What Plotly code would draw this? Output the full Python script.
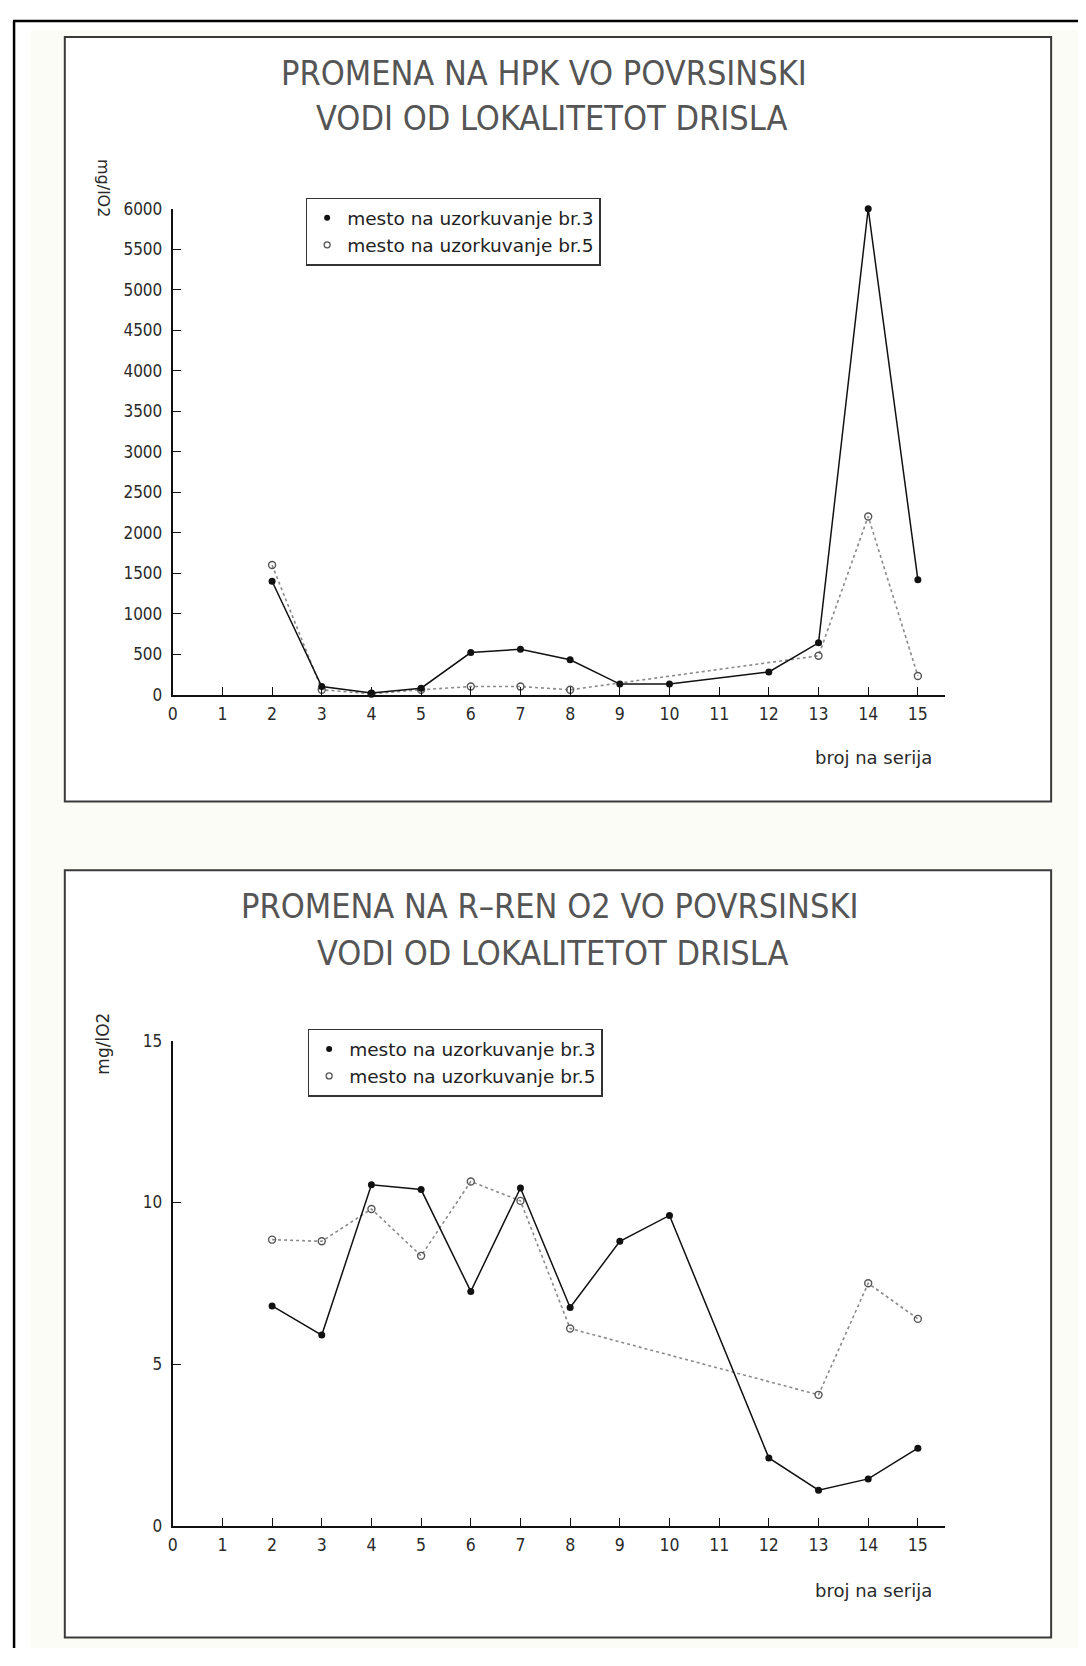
import plotly.graph_objects as go

PAGE_W, PAGE_H = 1086, 1666
OFF = 8  # the page body adds an 8px margin around the figure
W, H = PAGE_W - 2 * OFF, PAGE_H - 2 * OFF  # figure size so that the page does not overflow

# ---------------- data ----------------
series_x = [2, 3, 4, 5, 6, 7, 8, 9, 10, 11, 12, 13, 14, 15]

# HPK (top chart), mg/lO2
hpk_site3 = [1400, 100, 20, 80, 520, 560, 430, 130, 130, None, 280, 640, 6000, 1420]
hpk_site5 = [1600, 60, 10, 60, 100, 100, 60, None, None, None, None, 480, 2200, 230]

# dissolved O2 (bottom chart), mg/lO2
o2_site3 = [6.8, 5.9, 10.55, 10.4, 7.25, 10.45, 6.75, 8.8, 9.6, None, 2.1, 1.1, 1.45, 2.4]
o2_site5 = [8.85, 8.8, 9.8, 8.35, 10.65, 10.05, 6.1, None, None, None, None, 4.05, 7.5, 6.4]

x_ticks = list(range(0, 16))
hpk_ticks = list(range(0, 6001, 500))
o2_ticks = [0, 5, 10, 15]

name_site3 = "mesto na uzorkuvanje br.3"
name_site5 = "mesto na uzorkuvanje br.5"
title_top = ["PROMENA NA HPK VO POVRSINSKI", "VODI OD LOKALITETOT DRISLA"]
title_bot = ["PROMENA NA R\u2013REN O2 VO POVRSINSKI", "VODI OD LOKALITETOT DRISLA"]
y_title = "mg/lO2"
x_title = "broj na serija"

# small empirical correction of the page geometry
SY, CY = 1.010, 800
SX, CX = 1.004, 550


def px(x):
    x = CX + (x - CX) * SX
    return (x - OFF) / W


def py(y):
    y = CY + (y - CY) * SY
    return 1 - (y - OFF) / H


SMALL_FONT = "DejaVu Sans, Verdana, sans-serif"
TICK_FONT = "DejaVu Sans Condensed, DejaVu Sans, sans-serif"
TITLE_FONT = "Liberation Sans Narrow, DejaVu Sans Condensed, Liberation Sans, sans-serif"

fig = go.Figure()

line3 = dict(color="#111111", width=1.5)
line5 = dict(color="#8a8a8a", width=1.6, dash="dot")
mk3 = dict(symbol="circle", size=7, color="#111111")
mk5 = dict(symbol="circle-open", size=7, color="#555555", line=dict(width=1.4))

for xa, ya, s3, s5, lg in [("x", "y", hpk_site3, hpk_site5, "legend"),
                            ("x2", "y2", o2_site3, o2_site5, "legend2")]:
    fig.add_trace(go.Scatter(x=series_x, y=s5, mode="lines+markers", line=line5, marker=mk5,
                             connectgaps=True, cliponaxis=False, showlegend=False,
                             xaxis=xa, yaxis=ya, name=name_site5))
    fig.add_trace(go.Scatter(x=series_x, y=s3, mode="lines+markers", line=line3, marker=mk3,
                             connectgaps=True, cliponaxis=False, showlegend=False,
                             xaxis=xa, yaxis=ya, name=name_site3))
    # legend entries (marker only, as in the original legend)
    fig.add_trace(go.Scatter(x=[None], y=[None], mode="markers", marker=dict(symbol="circle", size=6, color="#111111"),
                             name=name_site3, legend=lg, xaxis=xa, yaxis=ya))
    fig.add_trace(go.Scatter(x=[None], y=[None], mode="markers",
                             marker=dict(symbol="circle-open", size=6, color="#555555", line=dict(width=1.3)),
                             name=name_site5, legend=lg, xaxis=xa, yaxis=ya))

# axis geometry (page pixel positions measured on the reference)
X0, X1 = 170, 943          # x = 0 ... 15.55
XMAX = 15.55
TOP_Y0, TOP_Y1 = 694, 207  # 0 ... 6000
BOT_Y0, BOT_Y1 = 1527, 1041  # 0 ... 15

common_x = dict(range=[0, XMAX], tickmode="array", tickvals=x_ticks, ticktext=[str(v) for v in x_ticks],
                showline=True, linecolor="#111111", linewidth=2, ticks="inside", ticklen=8, tickwidth=1.4,
                tickcolor="#111111", showgrid=False, zeroline=False, ticklabelstandoff=2,
                tickfont=dict(family=TICK_FONT, size=17.5, color="#2a2a2a"), fixedrange=True)
common_y = dict(showline=True, linecolor="#111111", linewidth=2, ticks="inside", ticklen=8, tickwidth=1.4,
                tickcolor="#111111", showgrid=False, zeroline=False, ticklabelstandoff=5,
                tickfont=dict(family=TICK_FONT, size=17, color="#2a2a2a"), fixedrange=True)

legend_common = dict(xanchor="left", yanchor="top", bordercolor="#333333", borderwidth=1.5,
                     bgcolor="rgba(255,255,255,0)", font=dict(family=SMALL_FONT, size=18.5, color="#222222"),
                     itemwidth=30, tracegroupgap=0)

fig.update_layout(
    width=W, height=H, autosize=False,
    margin=dict(l=0, r=0, t=0, b=0, pad=0),
    paper_bgcolor="#ffffff", plot_bgcolor="rgba(0,0,0,0)",
    xaxis=dict(domain=[px(X0), px(X1)], anchor="y", **common_x),
    yaxis=dict(domain=[py(TOP_Y0), py(TOP_Y1)], anchor="x", range=[0, 6000],
               tickmode="array", tickvals=hpk_ticks, ticktext=[str(v) for v in hpk_ticks], **common_y),
    xaxis2=dict(domain=[px(X0), px(X1)], anchor="y2", **common_x),
    yaxis2=dict(domain=[py(BOT_Y0), py(BOT_Y1)], anchor="x2", range=[0, 15],
                tickmode="array", tickvals=o2_ticks, ticktext=[str(v) for v in o2_ticks], **common_y),
    legend=dict(x=px(303), y=py(196), **legend_common),
    legend2=dict(x=px(305), y=py(1029), **legend_common),
)

shapes = []
# scanned-page background and outer frame
shapes.append(dict(type="rect", xref="paper", yref="paper", x0=px(28), x1=1, y0=0, y1=py(28),
                   fillcolor="#fcfcf6", line=dict(width=0), layer="below"))
shapes.append(dict(type="line", xref="paper", yref="paper", x0=(8 - OFF) / W, x1=1, y0=1 - (11 - OFF) / H,
                   y1=1 - (11 - OFF) / H, line=dict(color="#000000", width=2.5)))
shapes.append(dict(type="line", xref="paper", yref="paper", x0=(8 - OFF) / W + 0.001, x1=(8 - OFF) / W + 0.001,
                   y0=1 - (11 - OFF) / H, y1=0, line=dict(color="#000000", width=2.5)))
# chart frames
for top, bot in [(35, 801), (870, 1639)]:
    shapes.append(dict(type="rect", xref="paper", yref="paper", x0=px(62), x1=px(1049), y0=py(bot), y1=py(top),
                       fillcolor="#ffffff", line=dict(color="#3a3a3a", width=2), layer="below"))
fig.update_layout(shapes=shapes)

ann = []
for text, cx, cy in [(title_top[0], 542, 71), (title_top[1], 550, 116),
                     (title_bot[0], 547, 906), (title_bot[1], 551, 953)]:
    ann.append(dict(text=text, x=px(cx), y=py(cy), xref="paper", yref="paper", xanchor="center", yanchor="middle",
                    showarrow=False, font=dict(family=TITLE_FONT, size=34, color="#555555")))
# axis titles
ann.append(dict(text=y_title, x=px(100), y=py(186), xref="paper", yref="paper", xanchor="center", yanchor="middle",
                textangle=90, showarrow=False, font=dict(family=SMALL_FONT, size=16, color="#2a2a2a")))
ann.append(dict(text=y_title, x=px(100), y=py(1044), xref="paper", yref="paper", xanchor="center", yanchor="middle",
                textangle=-90, showarrow=False, font=dict(family=SMALL_FONT, size=17, color="#2a2a2a")))
for cy in [757, 1592]:
    ann.append(dict(text=x_title, x=px(932), y=py(cy), xref="paper", yref="paper", xanchor="right", yanchor="middle",
                    showarrow=False, font=dict(family=SMALL_FONT, size=18, color="#2a2a2a")))
fig.update_layout(annotations=ann)

fig.write_html("out.html")
